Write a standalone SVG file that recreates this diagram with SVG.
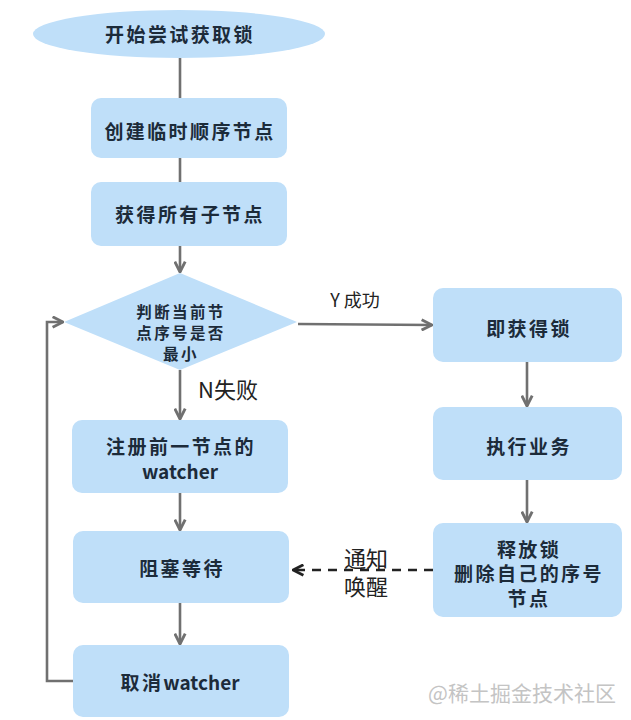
<svg xmlns="http://www.w3.org/2000/svg" width="631" height="720" viewBox="0 0 631 720">
<style>
.node{fill:#bfdff9;}
.t{font-family:"Noto Sans CJK SC","Noto Sans",sans-serif;font-weight:bold;fill:#1c2b3a;text-anchor:middle;dominant-baseline:central;font-size:19px;}
.cj{letter-spacing:2.4px;}
.d{font-size:15.5px;letter-spacing:2.4px;}
.lbl{font-family:"Noto Sans CJK SC","Noto Sans",sans-serif;fill:#222;text-anchor:middle;dominant-baseline:central;}
.ln{stroke:#707070;stroke-width:2.6;fill:none;}
.dash{stroke:#222;stroke-width:2.6;fill:none;stroke-dasharray:9 7;}
</style>
<defs>
<marker id="ah" viewBox="0 0 10 10" refX="9" refY="5" markerWidth="5" markerHeight="5" orient="auto" markerUnits="strokeWidth">
<path d="M1,1 L9,5 L1,9" fill="none" stroke="#707070" stroke-width="2.2"/>
</marker>
<marker id="ahd" viewBox="0 0 10 10" refX="9" refY="5" markerWidth="5" markerHeight="5" orient="auto" markerUnits="strokeWidth">
<path d="M1,1 L9,5 L1,9" fill="none" stroke="#222" stroke-width="2.2"/>
</marker>
</defs>
<rect width="631" height="720" fill="#ffffff"/>
<g id="connectors">
<line class="ln" x1="180" y1="58" x2="180" y2="98"/>
<line class="ln" x1="180" y1="158" x2="180" y2="182"/>
<line class="ln" x1="180" y1="246" x2="180" y2="272" marker-end="url(#ah)"/>
<line class="ln" x1="180" y1="370" x2="180" y2="419" marker-end="url(#ah)"/>
<line class="ln" x1="180" y1="493" x2="180" y2="530" marker-end="url(#ah)"/>
<line class="ln" x1="180" y1="603" x2="180" y2="644" marker-end="url(#ah)"/>
<line class="ln" x1="298" y1="324" x2="432" y2="325" marker-end="url(#ah)"/>
<line class="ln" x1="527" y1="362" x2="527" y2="406" marker-end="url(#ah)"/>
<line class="ln" x1="527" y1="480" x2="527" y2="522" marker-end="url(#ah)"/>
<polyline class="ln" points="73,681 47,681 47,322 63,322" marker-end="url(#ah)"/>
<line class="dash" x1="433" y1="570" x2="293" y2="570" marker-end="url(#ahd)"/>
<text class="lbl" x="355" y="299" font-size="18">Y 成功</text>
<text class="lbl" x="228" y="388" font-size="22">N失败</text>
<text class="lbl" x="366" y="557" font-size="22">通知</text>
<text class="lbl" x="366" y="585" font-size="22">唤醒</text>
</g>
<g id="start">
<ellipse class="node" cx="179" cy="34" rx="146" ry="24"/>
<text class="t cj" x="180" y="33">开始尝试获取锁</text>
</g>
<g id="create">
<rect class="node" x="91" y="98" width="196" height="60" rx="10"/>
<text class="t cj" x="190" y="130">创建临时顺序节点</text>
</g>
<g id="getchildren">
<rect class="node" x="91" y="182" width="196" height="64" rx="10"/>
<text class="t cj" x="190" y="213">获得所有子节点</text>
</g>
<g id="decide">
<polygon class="node" points="180,273 297,322 180,370 64,322"/>
<text class="t d" x="181" y="311">判断当前节</text>
<text class="t d" x="181" y="332">点序号是否</text>
<text class="t d" x="181" y="353">最小</text>
</g>
<g id="register">
<rect class="node" x="72" y="420" width="216" height="73" rx="10"/>
<text class="t cj" x="181" y="445">注册前一节点的</text>
<text class="t" x="180" y="470">watcher</text>
</g>
<g id="block">
<rect class="node" x="73" y="531" width="216" height="72" rx="10"/>
<text class="t cj" x="182" y="567">阻塞等待</text>
</g>
<g id="cancel">
<rect class="node" x="73" y="645" width="216" height="72" rx="10"/>
<text class="t" x="180" y="681"><tspan class="cj">取消</tspan>watcher</text>
</g>
<g id="acquire">
<rect class="node" x="433" y="288" width="189" height="74" rx="10"/>
<text class="t cj" x="529" y="327">即获得锁</text>
</g>
<g id="execute">
<rect class="node" x="433" y="407" width="189" height="73" rx="10"/>
<text class="t cj" x="529" y="445">执行业务</text>
</g>
<g id="release">
<rect class="node" x="433" y="523" width="189" height="94" rx="10"/>
<text class="t cj" x="529" y="548">释放锁</text>
<text class="t cj" x="529" y="572">删除自己的序号</text>
<text class="t cj" x="529" y="597">节点</text>
</g>
<text x="522" y="692" font-family="'Noto Sans CJK SC',sans-serif" font-size="21" fill="#c4c4c4" text-anchor="middle" dominant-baseline="central">@稀土掘金技术社区</text>
</svg>
